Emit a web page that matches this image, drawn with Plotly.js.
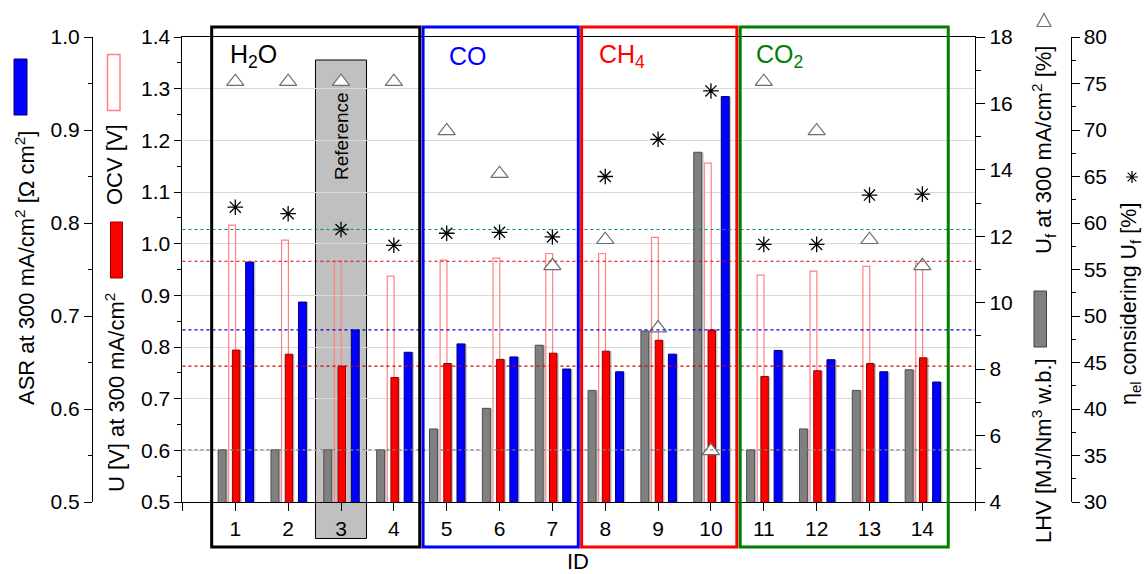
<!DOCTYPE html>
<html>
<head>
<meta charset="utf-8">
<script src="https://cdn.plot.ly/plotly-3.0.1.min.js"></script>
<style>
  html, body { margin: 0; padding: 0; background: #ffffff; }
  #chart { width: 1144px; height: 574px; }
</style>
</head>
<body>
<div id="chart"></div>
<script>
// ---- data -------------------------------------------------------------
const ids   = [1, 2, 3, 4, 5, 6, 7, 8, 9, 10, 11, 12, 13, 14];
// lower heating value of the fuel [MJ/Nm3 w.b.]
const lhv   = [5.57, 5.57, 5.57, 5.57, 6.20, 6.82, 8.72, 7.36, 9.15, 14.53, 5.57, 6.20, 7.36, 7.98];
// cell voltage at 300 mA/cm2 [V]
const uCell = [0.794, 0.786, 0.763, 0.741, 0.768, 0.776, 0.788, 0.792, 0.813, 0.833, 0.743, 0.754, 0.768, 0.779];
// open circuit voltage [V]
const ocv   = [1.036, 1.007, 0.966, 0.937, 0.968, 0.972, 0.981, 0.981, 1.012, 1.156, 0.939, 0.947, 0.956, 0.962];
// area specific resistance at 300 mA/cm2 [Ohm cm2]
const asr   = [0.758, 0.715, 0.685, 0.661, 0.670, 0.656, 0.643, 0.640, 0.659, 0.936, 0.663, 0.653, 0.640, 0.629];
// fuel utilisation at 300 mA/cm2 [%]
const uf    = [75.2, 75.2, 75.2, 75.2, 69.9, 65.3, 55.4, 58.2, 48.7, 35.5, 75.2, 69.9, 58.2, 55.4];
// electrical efficiency considering Uf [%]
const eta   = [61.7, 61.0, 59.3, 57.6, 58.9, 59.0, 58.5, 65.0, 69.0, 74.2, 57.7, 57.7, 63.0, 63.1];

const refId = 3;   // reference operating point
const xTickVals = [0, 1, 2, 3, 4, 5, 6, 7, 8, 9, 10, 11, 12, 13, 14, 15];
const xTickText = ['', '1', '2', '3', '4', '5', '6', '7', '8', '9', '10', '11', '12', '13', '14', ''];

const groupNames  = ['H<sub>2</sub>O', 'CO', 'CH<sub>4</sub>', 'CO<sub>2</sub>'];
const groupColors = ['#000000', '#0000ff', '#ff0000', '#008000'];
const groupFirst  = [1, 5, 8, 11];
const groupLast   = [4, 7, 10, 14];

// ---- layout helpers (pixel -> paper) ---------------------------------
const W = 1144, H = 574;
const plotL = 182.45, plotR = 975.2, plotT = 37, plotB = 502;
const px = v => v / W;
const py = v => 1 - v / H;
const X_MAX = 15;
const xPaper = d => px(plotL + d / X_MAX * (plotR - plotL));

const FONT = 'Liberation Sans, Arial, sans-serif';
const refIdx = ids.indexOf(refId);

// ---- traces ----------------------------------------------------------
const shadow = '#c4c4c4';
const sh = 0.035;
function barTrace(y, axis, offset, width, fill, line, lw) {
  return {
    type: 'bar', x: ids, y: y, yaxis: axis,
    offset: offset, width: width,
    marker: { color: fill, line: { color: line, width: lw } },
    hoverinfo: 'skip', showlegend: false
  };
}

const traces = [
  barTrace(lhv, 'y3', -0.325 + sh, 0.15, shadow, shadow, 0),
  barTrace(lhv, 'y3', -0.325, 0.15, '#808080', '#4d4d4d', 1),
  barTrace(ocv, 'y', -0.125, 0.13, 'rgba(0,0,0,0)', '#ff8080', 1.2),
  barTrace(uCell, 'y', -0.055 + sh, 0.14, shadow, shadow, 0),
  barTrace(uCell, 'y', -0.055, 0.14, '#ff0000', '#8b0000', 1),
  barTrace(asr, 'y2', 0.195 + sh, 0.15, shadow, shadow, 0),
  barTrace(asr, 'y2', 0.195, 0.15, '#0000ff', '#00006e', 1),
  {
    type: 'scatter', mode: 'markers', x: ids, y: uf, yaxis: 'y4',
    marker: { symbol: 'triangle-up', size: 15, color: '#ffffff',
              line: { color: '#6e6e6e', width: 1.2 } },
    hoverinfo: 'skip', showlegend: false
  },
  {
    type: 'scatter', mode: 'markers', x: ids, y: eta, yaxis: 'y4',
    marker: { symbol: 'asterisk-open', size: 13, color: '#000000',
              line: { color: '#000000', width: 1.3 } },
    hoverinfo: 'skip', showlegend: false
  }
];

// ---- shapes ----------------------------------------------------------
const shapes = [];

// highlighted reference column
shapes.push({
  type: 'rect', xref: 'paper', yref: 'paper', layer: 'below',
  x0: xPaper(refId - 0.483), x1: xPaper(refId + 0.483),
  y0: py(538.5), y1: py(60),
  fillcolor: '#c0c0c0', line: { color: '#000000', width: 1 }
});

// dotted reference levels taken from the reference operating point
const refLines = [
  { axis: 'y4', v: eta[refIdx],   c: '#008b8b' },
  { axis: 'y',  v: ocv[refIdx],   c: '#d40000' },
  { axis: 'y2', v: asr[refIdx],   c: '#0000d4' },
  { axis: 'y',  v: uCell[refIdx], c: '#d40000' },
  { axis: 'y3', v: lhv[refIdx],   c: '#808080' }
];
refLines.forEach(r => shapes.push({
  type: 'line', xref: 'paper', yref: r.axis, layer: 'above',
  x0: xPaper(0), x1: xPaper(X_MAX), y0: r.v, y1: r.v,
  line: { color: r.c, width: 1.2, dash: 'dot' }
}));

// fuel group frames
for (let g = 0; g < groupNames.length; g++) {
  shapes.push({
    type: 'rect', xref: 'paper', yref: 'paper', layer: 'above',
    x0: xPaper(groupFirst[g] - 0.447), x1: xPaper(groupLast[g] + 0.49),
    y0: py(547), y1: py(27),
    fillcolor: 'rgba(0,0,0,0)', line: { color: groupColors[g], width: 3 }
  });
}

// axis-title legend glyphs
function swatch(x0, x1, y0, y1, fill, line, lw) {
  shapes.push({ type: 'rect', xref: 'paper', yref: 'paper',
    x0: px(x0), x1: px(x1), y0: py(y1), y1: py(y0),
    fillcolor: fill, line: { color: line, width: lw } });
}
swatch(14, 27, 59, 115, '#0000ff', '#00006e', 1);        // ASR
swatch(107.5, 120, 54.5, 110.5, '#ffffff', '#ff8080', 1.5); // OCV
swatch(110.5, 122.5, 222, 278, '#ff0000', '#8b0000', 1);  // U
swatch(1034, 1046.5, 291, 347, '#808080', '#404040', 1);  // LHV

// triangle glyph for Uf
(function () {
  const cx = 1044, cy = 20, hw = 7, h = 13;
  shapes.push({ type: 'path', xref: 'paper', yref: 'paper',
    path: `M ${px(cx - hw)} ${py(cy + h / 2)} L ${px(cx + hw)} ${py(cy + h / 2)} L ${px(cx)} ${py(cy - h / 2)} Z`,
    fillcolor: '#ffffff', line: { color: '#6e6e6e', width: 1.2 } });
})();
// asterisk glyph for eta
(function () {
  const cx = 1132, cy = 177, r = 6, d = 4.3;
  const seg = (x0, y0, x1, y1) => `M ${px(x0)} ${py(y0)} L ${px(x1)} ${py(y1)}`;
  shapes.push({ type: 'path', xref: 'paper', yref: 'paper',
    path: [seg(cx - r, cy, cx + r, cy), seg(cx, cy - r, cx, cy + r),
           seg(cx - d, cy - d, cx + d, cy + d), seg(cx - d, cy + d, cx + d, cy - d)].join(' '),
    line: { color: '#000000', width: 1.2 } });
})();

// ---- annotations -----------------------------------------------------
const annotations = [];
function label(text, x, y, size, opts) {
  annotations.push(Object.assign({
    xref: 'paper', yref: 'paper', x: px(x), y: py(y),
    text: text, showarrow: false, xanchor: 'center', yanchor: 'middle',
    font: { family: FONT, size: size, color: '#000000' }
  }, opts || {}));
}

label('ASR at 300 mA/cm<sup>2</sup> [Ω cm<sup>2</sup>]', 25, 268, 22, { textangle: -90 });
label('OCV [V]', 115, 165, 22, { textangle: -90 });
label('U [V] at 300 mA/cm<sup>2</sup>', 115, 393, 22, { textangle: -90 });
label('U<sub>f</sub> at 300 mA/cm<sup>2</sup> [%]', 1043, 150, 22, { textangle: -90 });
label('LHV [MJ/Nm<sup>3</sup> w.b.]', 1042, 451, 22, { textangle: -90 });
label('η<sub>el</sub> considering U<sub>f</sub> [%]', 1130, 304, 21.5, { textangle: -90 });
label('ID', 578, 561, 22);
label('Reference', 341, 136, 19, { textangle: -90 });

const groupLabelX = [228, 447, 597, 754];
for (let g = 0; g < groupNames.length; g++) {
  label(groupNames[g], groupLabelX[g], 56, 25,
        { xanchor: 'left', font: { family: FONT, size: 25, color: groupColors[g] } });
}

// ---- axes ------------------------------------------------------------
const tickFont = { family: FONT, size: 21, color: '#000000' };
const common = {
  showline: true, linecolor: '#000000', linewidth: 1,
  ticks: 'outside', tickcolor: '#000000', tickwidth: 1,
  tickfont: tickFont, zeroline: false, fixedrange: true
};
const yDomain = [py(plotB), py(plotT)];

const layout = {
  width: W, height: H, autosize: false,
  margin: { l: 0, r: 0, t: 0, b: 0, pad: 0 },
  paper_bgcolor: '#ffffff', plot_bgcolor: 'rgba(0,0,0,0)',
  font: { family: FONT, color: '#000000' },
  showlegend: false, barmode: 'overlay', hovermode: false,
  xaxis: Object.assign({}, common, {
    domain: [xPaper(0), xPaper(X_MAX)], range: [0, X_MAX],
    tickmode: 'array', tickvals: xTickVals, ticktext: xTickText,
    ticklen: 8, mirror: true, showgrid: false, automargin: false
  }),
  yaxis: Object.assign({}, common, {
    domain: yDomain, range: [0.5, 1.4], side: 'left', anchor: 'x',
    dtick: 0.1, tick0: 0.5, tickformat: '.1f', ticklen: 7,
    minor: { dtick: 0.05, ticks: 'outside', ticklen: 4, tickcolor: '#000000', showgrid: false },
    showgrid: true, gridcolor: '#d9d9d9', gridwidth: 1, automargin: false
  }),
  yaxis2: Object.assign({}, common, {
    domain: yDomain, range: [0.5, 1.0], overlaying: 'y', anchor: 'free',
    position: px(92), side: 'left',
    dtick: 0.1, tick0: 0.5, tickformat: '.1f', ticklen: 8,
    minor: { dtick: 0.05, ticks: 'outside', ticklen: 4, tickcolor: '#000000', showgrid: false },
    showgrid: false, automargin: false
  }),
  yaxis3: Object.assign({}, common, {
    domain: yDomain, range: [4, 18], overlaying: 'y', anchor: 'x', side: 'right',
    dtick: 2, tick0: 4, ticklen: 9,
    minor: { dtick: 1, ticks: 'outside', ticklen: 5, tickcolor: '#000000', showgrid: false },
    showgrid: false, automargin: false
  }),
  yaxis4: Object.assign({}, common, {
    domain: yDomain, range: [30, 80], overlaying: 'y', anchor: 'free',
    position: px(1070.5), side: 'right',
    dtick: 5, tick0: 30, ticklen: 8,
    minor: { dtick: 2.5, ticks: 'outside', ticklen: 4, tickcolor: '#000000', showgrid: false },
    showgrid: false, automargin: false
  }),
  shapes: shapes,
  annotations: annotations
};

Plotly.newPlot('chart', traces, layout, { displayModeBar: false, staticPlot: true });
</script>
</body>
</html>
